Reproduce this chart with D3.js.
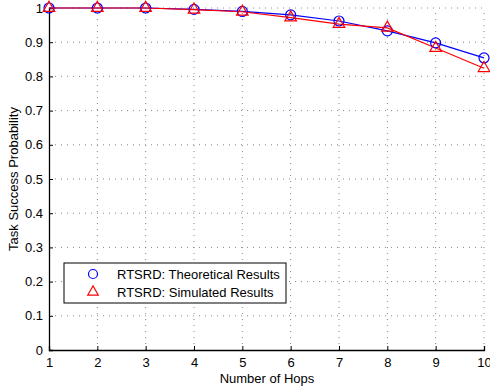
<!DOCTYPE html>
<html>
<head>
<meta charset="utf-8">
<script src="https://cdn.jsdelivr.net/npm/d3@7"></script>
<style>
  body { margin: 0; background: #fff; }
  svg text { font-family: "Liberation Sans", Arial, sans-serif; }
</style>
</head>
<body>
<div id="chart"></div>
<script>
const hops = [1, 2, 3, 4, 5, 6, 7, 8, 9, 10];
const theoretical = [1.0, 1.0, 1.0, 0.996, 0.99, 0.98, 0.962, 0.933, 0.898, 0.854];
const simulated = [1.0, 1.0, 1.0, 0.995, 0.989, 0.972, 0.953, 0.942, 0.883, 0.824];
const yTicks = [0, 0.1, 0.2, 0.3, 0.4, 0.5, 0.6, 0.7, 0.8, 0.9, 1];
const seriesNames = ['RTSRD: Theoretical Results', 'RTSRD: Simulated Results'];

const width = 490;
const height = 389;
const margin = { top: 8, right: 6, bottom: 39, left: 49 };
const fontSize = 13;

const svg = d3
  .select('#chart')
  .append('svg')
  .attr('width', width)
  .attr('height', height);

const x = d3.scaleLinear().domain([1, 10]).range([margin.left, width - margin.right]);
const y = d3.scaleLinear().domain([0, 1]).range([height - margin.bottom, margin.top]);

// dotted grid
svg
  .append('g')
  .selectAll('line')
  .data(hops.slice(1))
  .join('line')
  .attr('x1', (d) => x(d))
  .attr('x2', (d) => x(d))
  .attr('y1', y(0))
  .attr('y2', y(1))
  .attr('stroke', '#888')
  .attr('stroke-width', 1)
  .attr('stroke-dasharray', '1,5');

svg
  .append('g')
  .selectAll('line')
  .data(yTicks.slice(1))
  .join('line')
  .attr('x1', x(1))
  .attr('x2', x(10))
  .attr('y1', (d) => y(d))
  .attr('y2', (d) => y(d))
  .attr('stroke', '#888')
  .attr('stroke-width', 1)
  .attr('stroke-dasharray', '1,5');

// axes with inward ticks
const xAxis = d3.axisBottom(x).tickValues(hops).tickSize(-4).tickPadding(8).tickFormat(d3.format('d'));
const yAxis = d3.axisLeft(y).tickValues(yTicks).tickSize(-4).tickPadding(6).tickFormat((d) => (d === 0 || d === 1 ? d3.format('d')(d) : d3.format('.1f')(d)));

const gx = svg.append('g').attr('transform', `translate(0,${y(0)})`).call(xAxis);
const gy = svg.append('g').attr('transform', `translate(${x(1)},0)`).call(yAxis);

[gx, gy].forEach((g) => {
  g.select('.domain').attr('stroke', '#000').attr('stroke-width', 1.3);
  g.selectAll('.tick line').attr('stroke', '#000');
  g.selectAll('.tick text').attr('font-size', fontSize).attr('fill', '#000');
});

// lines
const line = (vals) =>
  d3
    .line()
    .x((d, i) => x(hops[i]))
    .y((d) => y(d))(vals);

svg.append('path').attr('d', line(theoretical)).attr('fill', 'none').attr('stroke', '#0000ff').attr('stroke-width', 1.2);
svg.append('path').attr('d', line(simulated)).attr('fill', 'none').attr('stroke', '#ff0000').attr('stroke-width', 1.2);

// markers
const tri = d3.symbol().type(d3.symbolTriangle).size(58);

svg
  .append('g')
  .selectAll('circle')
  .data(theoretical)
  .join('circle')
  .attr('cx', (d, i) => x(hops[i]))
  .attr('cy', (d) => y(d))
  .attr('r', 5)
  .attr('fill', 'none')
  .attr('stroke', '#0000ff')
  .attr('stroke-width', 1.2);

svg
  .append('g')
  .selectAll('path')
  .data(simulated)
  .join('path')
  .attr('d', tri)
  .attr('transform', (d, i) => `translate(${x(hops[i])},${y(d)})`)
  .attr('fill', 'none')
  .attr('stroke', '#ff0000')
  .attr('stroke-width', 1.2);

// axis labels
svg
  .append('text')
  .attr('x', 267)
  .attr('y', 383)
  .attr('text-anchor', 'middle')
  .attr('font-size', fontSize)
  .text('Number of Hops');

svg
  .append('text')
  .attr('transform', 'rotate(-90)')
  .attr('x', -(y(0.5)))
  .attr('y', 18)
  .attr('text-anchor', 'middle')
  .attr('font-size', fontSize)
  .text('Task Success Probability');

// legend
const legend = svg.append('g').attr('transform', 'translate(64,263)');
legend
  .append('rect')
  .attr('width', 222)
  .attr('height', 40)
  .attr('fill', '#fff')
  .attr('stroke', '#000')
  .attr('stroke-width', 1);

legend
  .append('circle')
  .attr('cx', 29)
  .attr('cy', 11)
  .attr('r', 4.5)
  .attr('fill', 'none')
  .attr('stroke', '#0000ff')
  .attr('stroke-width', 1.2);

legend
  .append('path')
  .attr('d', d3.symbol().type(d3.symbolTriangle).size(48))
  .attr('transform', 'translate(29,29)')
  .attr('fill', 'none')
  .attr('stroke', '#ff0000')
  .attr('stroke-width', 1.2);

legend
  .selectAll('text')
  .data(seriesNames)
  .join('text')
  .attr('x', 53)
  .attr('y', (d, i) => 16 + i * 18)
  .attr('font-size', fontSize)
  .text((d) => d);
</script>
</body>
</html>
